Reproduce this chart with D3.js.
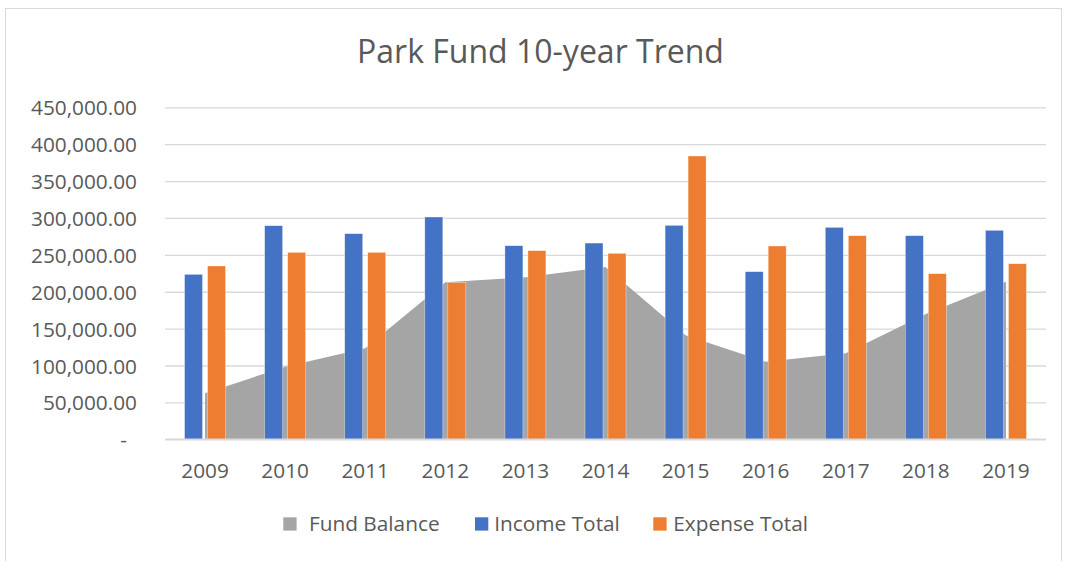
<!DOCTYPE html>
<html>
<head>
<meta charset="utf-8">
<script src="https://cdn.jsdelivr.net/npm/d3@7"></script>
<style>
  html, body { margin: 0; padding: 0; background: #fff; }
  svg { display: block; }
  text { font-family: "Open Sans", Lato, sans-serif; fill: #595959; }
</style>
</head>
<body>
<svg id="chart" width="1068" height="561"></svg>
<script>
// ---- data ----
const years = ["2009","2010","2011","2012","2013","2014","2015","2016","2017","2018","2019"];
const fundBalance = [62300, 98400, 123300, 212800, 219600, 233500, 141000, 105200, 116600, 169800, 213600];
const incomeTotal = [223600, 289500, 278700, 301300, 262400, 266000, 290000, 227200, 287300, 276000, 283300];
const expenseTotal = [234900, 253400, 253400, 212300, 255700, 252100, 384000, 262000, 276000, 224500, 238000];
const yTicks = [0, 50000, 100000, 150000, 200000, 250000, 300000, 350000, 400000, 450000];
const seriesNames = ["Fund Balance", "Income Total", "Expense Total"];
const title = "Park Fund 10-year Trend";

// ---- layout ----
const svg = d3.select("#chart");
const plot = { left: 165, right: 1046, top: 107.3, bottom: 439.3 };
const colors = { "Fund Balance": "#a5a5a5", "Income Total": "#4472c4", "Expense Total": "#ed7d31" };
const FONT = "'Open Sans', Lato, sans-serif";
const LABEL_SIZE = 20.8;

// chart border
svg.append("rect").attr("x", 5.5).attr("y", 8.5).attr("width", 1056).attr("height", 600)
  .attr("fill", "#fff").attr("stroke", "#d9d9d9").attr("stroke-width", 1);

const x = d3.scaleBand().domain(years).range([plot.left, plot.right]).padding(0);
const y = d3.scaleLinear().domain([0, 450000]).range([plot.bottom, plot.top]);
const barSeries = ["Income Total", "Expense Total"];
const xInner = d3.scaleBand().domain(barSeries).range([-20.5, 20.5]).paddingInner(5 / 23).paddingOuter(0);
const cx = yr => x(yr) + x.bandwidth() / 2;

// gridlines
const grid = svg.append("g").attr("transform", `translate(${plot.left},0)`)
  .call(d3.axisLeft(y).tickValues(yTicks).tickSize(-(plot.right - plot.left)).tickFormat(""));
grid.select(".domain").remove();
grid.selectAll("line").attr("stroke", "#d9d9d9").attr("stroke-width", 1.3);

// area
const areaData = years.map((yr, i) => ({ yr, v: fundBalance[i] }));
svg.append("path").datum(areaData)
  .attr("fill", colors["Fund Balance"])
  .attr("d", d3.area().x(d => cx(d.yr)).y0(y(0)).y1(d => y(d.v)));

// bars
const barData = [];
years.forEach((yr, i) => {
  barData.push({ yr, s: "Income Total", v: incomeTotal[i] });
  barData.push({ yr, s: "Expense Total", v: expenseTotal[i] });
});
svg.append("g").selectAll("rect").data(barData).join("rect")
  .attr("x", d => cx(d.yr) + xInner(d.s))
  .attr("width", xInner.bandwidth())
  .attr("y", d => y(d.v))
  .attr("height", d => y(0) - y(d.v))
  .attr("fill", d => colors[d.s])
  .attr("stroke", "#fff").attr("stroke-width", 0.6).attr("stroke-opacity", 0.6);

// baseline
svg.append("line").attr("x1", plot.left).attr("x2", plot.right)
  .attr("y1", y(0)).attr("y2", y(0)).attr("stroke", "#d9d9d9").attr("stroke-width", 1.5);

// y axis labels
const fmt = d3.format(",.2f");
const yAxis = svg.append("g").attr("transform", `translate(${plot.left},0)`)
  .call(d3.axisLeft(y).tickValues(yTicks).tickSize(0).tickPadding(28)
    .tickFormat(d => d === 0 ? "-" : fmt(d)));
yAxis.select(".domain").remove();
yAxis.selectAll("text").attr("font-family", FONT).attr("font-size", LABEL_SIZE).attr("fill", "#595959")
  .attr("dy", "0.36em")
  .attr("dx", d => d === 0 ? -10 : 0);

// x axis labels
const xAxis = svg.append("g").attr("transform", `translate(0,${plot.bottom})`)
  .call(d3.axisBottom(x).tickSize(0));
xAxis.select(".domain").remove();
xAxis.selectAll("text").attr("font-family", FONT).attr("font-size", LABEL_SIZE).attr("fill", "#595959")
  .attr("y", 38.4).attr("dy", 0);

// title
svg.append("text").attr("x", 540.5).attr("y", 63.3).attr("text-anchor", "middle")
  .attr("font-size", 32).text(title);

// legend
const legendPos = [{ sq: 283.3, tx: 309 }, { sq: 475, tx: 494.3 }, { sq: 653.3, tx: 673.3 }];
const leg = svg.append("g").selectAll("g").data(seriesNames).join("g");
leg.append("rect").attr("x", (d, i) => legendPos[i].sq).attr("y", 517.3)
  .attr("width", 13.3).attr("height", 13.3).attr("fill", d => colors[d]);
leg.append("text").attr("x", (d, i) => legendPos[i].tx).attr("y", 530.7)
  .attr("font-size", LABEL_SIZE).text(d => d);
</script>
</body>
</html>
